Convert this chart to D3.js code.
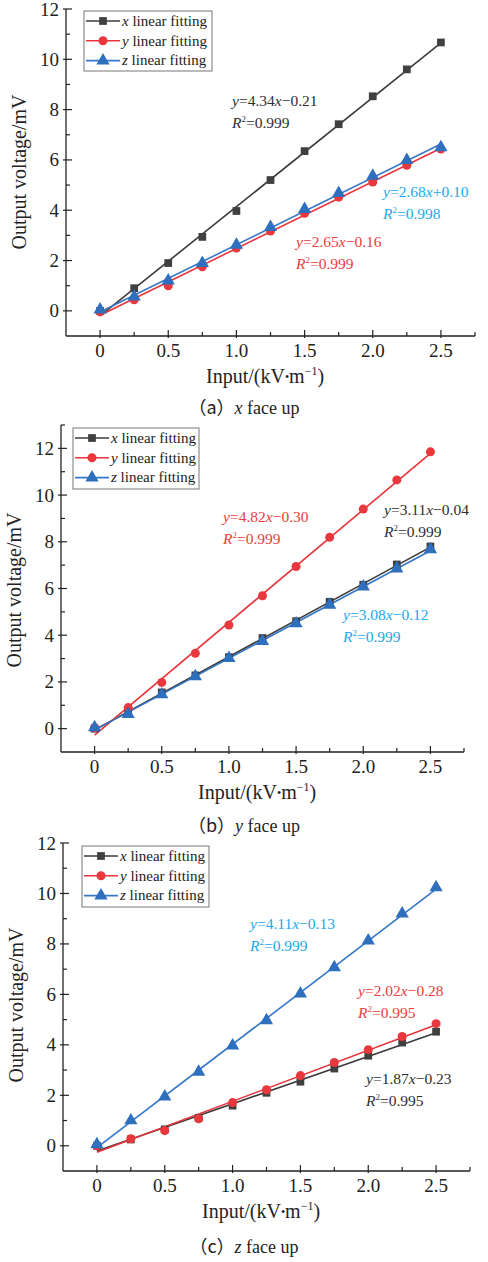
<!DOCTYPE html>
<html><head><meta charset="utf-8">
<script src="https://cdn.jsdelivr.net/npm/d3@7"></script>
<style>
html,body{margin:0;padding:0;background:#fff;}
svg{display:block;}
text, tspan{font-family:"Liberation Serif","Times New Roman",serif;}
tspan.cjk{font-family:"Noto Sans CJK SC",sans-serif;}
</style></head>
<body>
<script>
// ---------- data ----------
const inputs = [0, 0.25, 0.5, 0.75, 1.0, 1.25, 1.5, 1.75, 2.0, 2.25, 2.5];
const seriesNames = ["x", "y", "z"];

// (a) x face up
const a_x = [0.0, 0.9, 1.9, 2.94, 3.97, 5.2, 6.35, 7.42, 8.53, 9.6, 10.67];
const a_y = [-0.04, 0.44, 1.0, 1.75, 2.5, 3.17, 3.88, 4.52, 5.12, 5.79, 6.43];
const a_z = [0.05, 0.56, 1.2, 1.9, 2.62, 3.33, 4.04, 4.68, 5.36, 5.99, 6.5];
// (b) y face up
const b_x = [0.0, 0.68, 1.55, 2.28, 3.06, 3.88, 4.6, 5.43, 6.16, 7.03, 7.8];
const b_y = [0.04, 0.9, 1.98, 3.23, 4.44, 5.69, 6.94, 8.19, 9.4, 10.65, 11.85];
const b_z = [0.05, 0.62, 1.46, 2.24, 3.02, 3.75, 4.5, 5.3, 6.08, 6.85, 7.67];
// (c) z face up
const c_x = [0.0, 0.25, 0.65, 1.1, 1.59, 2.1, 2.54, 3.06, 3.57, 4.09, 4.52];
const c_y = [0.0, 0.28, 0.6, 1.07, 1.71, 2.22, 2.78, 3.3, 3.81, 4.33, 4.84];
const c_z = [0.05, 1.0, 1.95, 2.93, 3.97, 4.97, 6.03, 7.07, 8.13, 9.2, 10.24];

// fit equations (as printed)
const a_eq = [["4.34", "−0.21", "0.999"], ["2.65", "−0.16", "0.999"], ["2.68", "+0.10", "0.998"]];
const b_eq = [["3.11", "−0.04", "0.999"], ["4.82", "−0.30", "0.999"], ["3.08", "−0.12", "0.999"]];
const c_eq = [["1.87", "−0.23", "0.995"], ["2.02", "−0.28", "0.995"], ["4.11", "−0.13", "0.999"]];

const xTicks = [0, 0.5, 1.0, 1.5, 2.0, 2.5];
const xTickLabels = ["0", "0.5", "1.0", "1.5", "2.0", "2.5"];
const captionLetters = ["a", "b", "c"];
const faceAxis = ["x", "y", "z"];

// ---------- styling ----------
const lineColors = ["#3b3b3b", "#e8343c", "#3577c8"];
const markColors = ["#404040", "#e8383e", "#2e6fbe"];
const annColors = ["#2f2f2f", "#ee3b3b", "#19a9ec"];
const symbols = [d3.symbolSquare, d3.symbolCircle, d3.symbolTriangle];
const symSizes = [60, 64, 76];

const W = 488, H = 1262;
const svg = d3.select("body").append("svg").attr("width", W).attr("height", H);

const panels = [
  { data: [a_x, a_y, a_z], eq: a_eq, xr: [66, 475], yd: [-1, 12], yr: [336, 9], yTicks: [0,2,4,6,8,10,12],
    legend: [84, 11, 128, 60],
    ann: [[232, 101], [296, 242], [383, 192]], caption: 408, ytitle: 172 },
  { data: [b_x, b_y, b_z], eq: b_eq, xr: [61, 464], yd: [-1, 13], yr: [752, 425], yTicks: [0,2,4,6,8,10,12],
    legend: [73, 428, 126, 61],
    ann: [[384, 510], [223, 517], [343, 615]], caption: 826, ytitle: 590 },
  { data: [c_x, c_y, c_z], eq: c_eq, xr: [63, 470], yd: [-1, 12], yr: [1171, 843], yTicks: [0,2,4,6,8,10,12],
    legend: [82, 846, 127, 61],
    ann: [[366, 1079], [358, 991], [250, 924]], caption: 1247, ytitle: 1005 }
];

function fit(xs, ys) {
  const n = xs.length, mx = d3.mean(xs), my = d3.mean(ys);
  let sxy = 0, sxx = 0;
  for (let i = 0; i < n; i++) { sxy += (xs[i]-mx)*(ys[i]-my); sxx += (xs[i]-mx)**2; }
  const k = sxy / sxx; return [k, my - k*mx];
}

panels.forEach((p, pi) => {
  const g = svg.append("g");
  const x = d3.scaleLinear().domain([-0.25, 2.75]).range(p.xr);
  const y = d3.scaleLinear().domain(p.yd).range(p.yr);
  const left = p.xr[0], bottom = p.yr[0];
  const axCol = "#222";

  // axes lines
  g.append("line").attr("x1", left).attr("x2", left).attr("y1", p.yr[1]).attr("y2", bottom).attr("stroke", axCol).attr("stroke-width", 1.3);
  g.append("line").attr("x1", left).attr("x2", p.xr[1]).attr("y1", bottom).attr("y2", bottom).attr("stroke", axCol).attr("stroke-width", 1.3);

  // y ticks
  const yMax = p.yd[1];
  for (let v = 0; v <= yMax; v++) {
    const major = v % 2 === 0 && p.yTicks.includes(v);
    g.append("line").attr("x1", left - (major ? 3 : 0)).attr("x2", left + (major ? 6 : 4))
      .attr("y1", y(v)).attr("y2", y(v)).attr("stroke", axCol).attr("stroke-width", 1.2);
  }
  p.yTicks.forEach(v => {
    g.append("text").attr("x", left - 7).attr("y", y(v) + 6.5).attr("text-anchor", "end")
      .attr("font-size", 19).attr("fill", "#222").text(v);
  });
  // x ticks
  for (let v = 0; v <= 2.75; v += 0.25) {
    const major = Math.abs(v*2 - Math.round(v*2)) < 1e-6;
    g.append("line").attr("x1", x(v)).attr("x2", x(v)).attr("y1", bottom + (major ? 2 : 0)).attr("y2", bottom - (major ? 6 : 4))
      .attr("stroke", axCol).attr("stroke-width", 1.2);
  }
  xTicks.forEach((v, i) => {
    g.append("text").attr("x", x(v)).attr("y", bottom + 21).attr("text-anchor", "middle")
      .attr("font-size", 19).attr("fill", "#222").text(xTickLabels[i]);
  });

  // axis titles
  const xt = g.append("text").attr("x", x(1.21)).attr("y", bottom + 47).attr("text-anchor", "middle")
    .attr("font-size", 20).attr("fill", "#222");
  xt.append("tspan").text("Input/(kV");
  xt.append("tspan").text("•").attr("font-size", 12).attr("dy", -2);
  xt.append("tspan").text("m").attr("dy", 2);
  xt.append("tspan").text("−1").attr("font-size", 12).attr("dy", -8);
  xt.append("tspan").text(")").attr("dy", 8);

  g.append("text").attr("transform", `translate(${left - 40},${p.ytitle}) rotate(-90)`)
    .attr("text-anchor", "middle").attr("font-size", 20).attr("fill", "#222").text("Output voltage/mV");

  // fit lines + markers
  p.data.forEach((vals, si) => {
    const [k, b] = fit(inputs, vals);
    g.append("line").attr("x1", x(0)).attr("y1", y(b)).attr("x2", x(2.5)).attr("y2", y(k*2.5 + b))
      .attr("stroke", lineColors[si]).attr("stroke-width", 1.6);
  });
  p.data.forEach((vals, si) => {
    g.selectAll(null).data(vals).enter().append("path")
      .attr("d", d3.symbol().type(symbols[si]).size(symSizes[si]))
      .attr("transform", (d, i) => `translate(${x(inputs[i])},${y(d)})`)
      .attr("fill", markColors[si]);
  });

  // legend
  const [lx, ly, lw, lh] = p.legend;
  g.append("rect").attr("x", lx).attr("y", ly).attr("width", lw).attr("height", lh)
    .attr("fill", "#fff").attr("stroke", "#777").attr("stroke-width", 1);
  seriesNames.forEach((nm, si) => {
    const cy = ly + 10 + si * 19.8;
    g.append("line").attr("x1", lx + 2).attr("x2", lx + 36).attr("y1", cy).attr("y2", cy)
      .attr("stroke", lineColors[si]).attr("stroke-width", 1.6);
    g.append("path").attr("d", d3.symbol().type(symbols[si]).size(symSizes[si])())
      .attr("transform", `translate(${lx + 19},${cy})`).attr("fill", markColors[si]);
    const t = g.append("text").attr("x", lx + 38).attr("y", cy + 4.8).attr("font-size", 15).attr("fill", "#222");
    t.append("tspan").attr("font-style", "italic").text(nm);
    t.append("tspan").text(" linear fitting");
  });

  // annotations
  p.eq.forEach((e, si) => {
    const [ax, ay] = p.ann[si];
    const t1 = g.append("text").attr("x", ax).attr("y", ay + 5).attr("font-size", 15.5).attr("fill", annColors[si]);
    t1.append("tspan").attr("font-style", "italic").text("y");
    t1.append("tspan").text("=" + e[0]);
    t1.append("tspan").attr("font-style", "italic").text("x");
    t1.append("tspan").text(e[1]);
    const t2 = g.append("text").attr("x", ax).attr("y", ay + 27).attr("font-size", 15.5).attr("fill", annColors[si]);
    t2.append("tspan").attr("font-style", "italic").text("R");
    t2.append("tspan").text("2").attr("font-size", 9).attr("dy", -6);
    t2.append("tspan").text("=" + e[2]).attr("dy", 6);
  });

  // caption
  const cap = g.append("text").attr("x", 244).attr("y", p.caption + 6).attr("text-anchor", "middle")
    .attr("font-size", 18).attr("fill", "#222");
  cap.append("tspan").attr("class", "cjk").text("（" + captionLetters[pi] + "）");
  cap.append("tspan").attr("font-style", "italic").text(faceAxis[pi]);
  cap.append("tspan").text(" face up");
});
</script>
</body></html>
